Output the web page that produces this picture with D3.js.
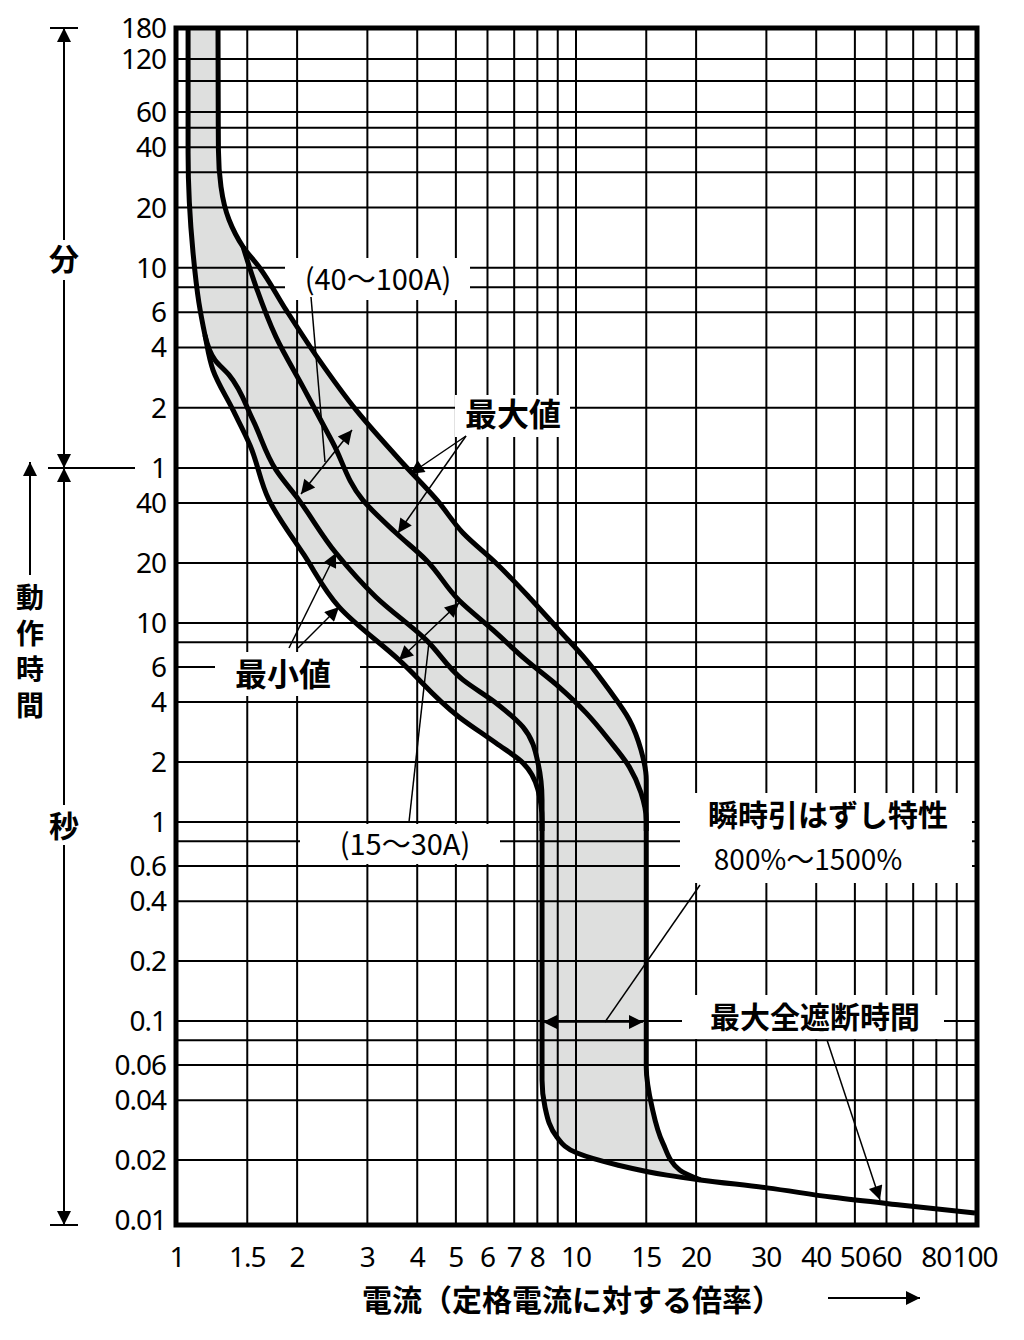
<!DOCTYPE html>
<html>
<head>
<meta charset="utf-8">
<script src="https://cdn.jsdelivr.net/npm/d3@7"></script>
<style>
  body { margin: 0; background: #fff; }
  text { font-family: "Noto Sans", "Noto Sans CJK JP", sans-serif; fill: #000; }
  .jp { font-family: "Noto Sans CJK JP", sans-serif; }
</style>
</head>
<body>
<script>
// current multiples (x) and operate time in seconds (t)
var xGrid = [1.5, 2, 3, 4, 5, 6, 7, 8, 9, 10, 15, 20, 30, 40, 50, 60, 70, 80, 90];
var xLabels = [1, 1.5, 2, 3, 4, 5, 6, 7, 8, 10, 15, 20, 30, 40, 50, 60, 80, 100];
var minGrid = [1, 2, 4, 6, 8, 10, 20, 30, 40, 50, 60, 90, 120];
var minLabels = [180, 120, 60, 40, 20, 10, 6, 4, 2, 1];
var secGrid = [40, 20, 10, 8, 6, 4, 2, 1, 0.8, 0.6, 0.4, 0.2, 0.1, 0.08, 0.06, 0.04, 0.02];
var secLabels = [40, 20, 10, 6, 4, 2, 1, 0.6, 0.4, 0.2, 0.1, 0.06, 0.04, 0.02, 0.01];

var curve1 = [[1.066,10800],[1.066,2255],[1.097,713],[1.135,401],[1.175,277],[1.231,185],[1.381,117],
  [1.524,78],[1.70,41.5],[2.08,22],[2.55,12],[3.60,6.52],[5.09,3.37],[6.30,2.49],[7.36,1.98],
  [8.03,1.45],[8.22,1.02],[8.22,0.0505],[8.36,0.037],[8.96,0.0261],[10.06,0.0217],[12.7,0.0189],
  [16.9,0.0168],[20.5,0.0159],[30.1,0.0145],[44.1,0.013],[64.9,0.0119],[100,0.01084]];
var curve2 = [[1.175,277],[1.245,208],[1.35,175],[1.55,104],[1.77,58.7],[2.02,41.5],[2.50,22.5],
  [3.15,13.5],[4.21,8.22],[5.21,5.17],[6.30,3.96],[7.36,3.0],[8.03,1.98],[8.22,1.29],[8.22,0.9]];
var curve3 = [[1.464,764],[1.578,482],[1.77,271],[2.07,152],[2.46,80],[2.92,41.5],[3.54,28.3],
  [4.21,20.7],[5.09,13.0],[6.19,9.22],[7.49,6.52],[9.06,4.77],[10.6,3.53],[12.1,2.58],[13.6,1.89],
  [14.55,1.40],[15.0,1.02],[15.0,0.9]];
var curve4 = [[1.267,10800],[1.27,2334],[1.289,1524],[1.35,1043],[1.464,764],[1.606,606],[1.876,370],
  [2.27,208],[2.81,117],[3.68,63.4],[4.48,41.5],[5.21,28.3],[6.30,20.0],[7.62,13.5],[9.06,9.22],
  [10.6,6.52],[12.1,4.61],[13.6,3.26],[14.55,2.30],[15.0,1.63],[15.0,0.955],[15.0,0.0587],
  [15.5,0.037],[16.5,0.0244],[18.2,0.0178],[20.5,0.0159]];

var W = 1024, H = 1340;
var L = 176, R = 977, T = 28, B = 1225;
var svg = d3.select('body').append('svg').attr('width', W).attr('height', H);

var x = d3.scaleLog().domain([1, 100]).range([177, 975]);
var ySec = d3.scaleLog().domain([0.01, 60]).range([1220, 468]);
var yMin = d3.scaleLog().domain([1, 60]).range([468, 112]);
var yMinHi = d3.scaleLog().domain([60, 180]).range([112, 28]);
function y(t) {
    if (t <= 60) return ySec(t);
    var m = t / 60;
    return m <= 60 ? yMin(m) : yMinHi(m);
}

var line = d3.line().curve(d3.curveMonotoneY)
    .x(function (d) { return x(d[0]); }).y(function (d) { return y(d[1]); });

// shaded band
var bandLeft = curve1.filter(function (d) { return d[0] <= 20.5; });
svg.append('path')
    .attr('d', line(bandLeft) + line(curve4.slice()).replace('M', 'L').replace(/^/, '') )
    .attr('fill', 'none');
var bandPath = line(bandLeft) + 'L' + line(curve4.slice().reverse()).slice(1) + 'Z';
svg.append('path')
    .attr('d', d3.line().curve(d3.curveMonotoneY)
        .x(function (d) { return x(d[0]); }).y(function (d) { return y(d[1]); })(bandLeft)
        + 'L' + line(curve4).slice(1).split(/(?=[MLC])/).join('') )
    .attr('fill', 'none');
// simple polygon fill built from the same points, smoothed by drawing both edges
var fillArea = svg.append('g');
fillArea.append('path')
    .attr('d', line(bandLeft) + 'L' + x(curve4[curve4.length - 1][0]) + ',' + y(curve4[curve4.length - 1][1]) +
        ' ' + line(curve4.slice().reverse()).replace(/^M/, 'L') + 'Z')
    .attr('fill', '#dedfde');

// grid
var g = svg.append('g').attr('stroke', '#000').attr('stroke-width', 2);
g.selectAll('.vx').data(xGrid).enter().append('line')
    .attr('x1', function (d) { return x(d); }).attr('x2', function (d) { return x(d); })
    .attr('y1', T).attr('y2', B);
g.selectAll('.hm').data(minGrid).enter().append('line')
    .attr('x1', L).attr('x2', R)
    .attr('y1', function (d) { return y(d * 60); }).attr('y2', function (d) { return y(d * 60); });
g.selectAll('.hs').data(secGrid).enter().append('line')
    .attr('x1', L).attr('x2', R)
    .attr('y1', function (d) { return y(d); }).attr('y2', function (d) { return y(d); });

// white label boxes (cover grid)
var boxes = [[285, 258, 185, 42], [455, 395, 115, 42], [215, 652, 145, 44], [300, 824, 200, 40],
    [680, 793, 292, 90], [682, 995, 262, 44]];
svg.selectAll('.box').data(boxes).enter().append('rect')
    .attr('x', function (d) { return d[0]; }).attr('y', function (d) { return d[1]; })
    .attr('width', function (d) { return d[2]; }).attr('height', function (d) { return d[3]; })
    .attr('fill', '#fff');

// curves
[curve1, curve2, curve3, curve4].forEach(function (c) {
    svg.append('path').attr('d', line(c)).attr('fill', 'none')
        .attr('stroke', '#000').attr('stroke-width', 5).attr('stroke-linejoin', 'round');
});

// frame
svg.append('rect').attr('x', L).attr('y', T).attr('width', R - L).attr('height', B - T)
    .attr('fill', 'none').attr('stroke', '#000').attr('stroke-width', 5);

// tick labels
svg.selectAll('.xl').data(xLabels).enter().append('text')
    .attr('x', function (d) { return x(d); }).attr('y', 1267)
    .attr('text-anchor', 'middle').attr('font-size', 28).attr('letter-spacing', -1)
    .text(function (d) { return d; });
svg.selectAll('.ml').data(minLabels).enter().append('text')
    .attr('x', 166).attr('y', function (d) { return y(d * 60) + 10; })
    .attr('text-anchor', 'end').attr('font-size', 28).attr('letter-spacing', -1)
    .text(function (d) { return d; });
svg.selectAll('.sl').data(secLabels).enter().append('text')
    .attr('x', 166).attr('y', function (d) { return y(d) + 10; })
    .attr('text-anchor', 'end').attr('font-size', 28).attr('letter-spacing', -1)
    .text(function (d) { return d; });

// arrow markers
var defs = svg.append('defs');
defs.append('marker').attr('id', 'big').attr('viewBox', '0 0 10 10').attr('refX', 10).attr('refY', 5)
    .attr('markerWidth', 24).attr('markerHeight', 14).attr('markerUnits', 'userSpaceOnUse')
    .attr('orient', 'auto-start-reverse')
    .append('path').attr('d', 'M0,0L10,5L0,10Z').attr('fill', '#000');

function seg(x1, y1, x2, y2, w, m1, m2) {
    var l = svg.append('line').attr('x1', x1).attr('y1', y1).attr('x2', x2).attr('y2', y2)
        .attr('stroke', '#000').attr('stroke-width', w || 1.5);
    if (m1) l.attr('marker-start', 'url(#' + m1 + ')');
    if (m2) l.attr('marker-end', 'url(#' + m2 + ')');
    return l;
}

// left time axis
var yOne = y(60);
seg(64, T, 64, 240, 2, 'big', null);
seg(64, 280, 64, yOne, 2, null, 'big');
seg(64, yOne, 64, 805, 2, 'big', null);
seg(64, 845, 64, B, 2, null, 'big');
seg(50, T, 78, T, 2); seg(50, B, 78, B, 2);
seg(48, yOne, 135, yOne, 2);
seg(30, 575, 30, yOne - 6, 2, null, 'big');
svg.append('text').attr('class', 'jp').attr('x', 64).attr('y', 270).attr('text-anchor', 'middle')
    .attr('font-size', 30).attr('font-weight', 'bold').text('分');
svg.append('text').attr('class', 'jp').attr('x', 64).attr('y', 837).attr('text-anchor', 'middle')
    .attr('font-size', 30).attr('font-weight', 'bold').text('秒');
['動', '作', '時', '間'].forEach(function (c, i) {
    svg.append('text').attr('class', 'jp').attr('x', 30).attr('y', 608 + i * 36).attr('text-anchor', 'middle')
        .attr('font-size', 28).attr('font-weight', 'bold').text(c);
});

// x axis title
svg.append('text').attr('class', 'jp').attr('x', 572).attr('y', 1311).attr('text-anchor', 'middle')
    .attr('font-size', 30).attr('font-weight', 'bold').text('電流（定格電流に対する倍率）');
seg(828, 1298, 920, 1298, 2, null, 'big');

// annotations
function label(t, x0, y0, size, bold) {
    svg.append('text').attr('class', 'jp').attr('x', x0).attr('y', y0).attr('text-anchor', 'middle')
        .attr('font-size', size).attr('font-weight', bold ? 'bold' : 'normal').text(t);
}
label('(40〜100A)', 378, 290, 29, false);
seg(311, 297, 325, 462);
seg(301, 494, 352, 430, 1.5, 'big', 'big');

label('最大値', 513, 426, 32, true);
seg(466, 436, 410, 474, 1.5, null, 'big');
seg(466, 436, 398, 533, 1.5, null, 'big');

label('最小値', 283, 686, 32, true);
seg(289, 648, 336, 553, 1.5, null, 'big');
seg(298, 648, 339, 607, 1.5, null, 'big');

label('(15〜30A)', 405, 855, 29, false);
seg(409, 822, 429, 642);
seg(399, 660, 459, 603, 1.5, 'big', 'big');

label('瞬時引はずし特性', 828, 826, 30, true);
label('800%〜1500%', 808, 870, 28, false);
seg(700, 885, 605, 1022);
seg(605, 1022, 543, 1022, 1.5, null, 'big');
seg(605, 1022, 643, 1022, 1.5, null, 'big');

label('最大全遮断時間', 815, 1028, 30, true);
seg(827, 1040, 880, 1200, 1.5, null, 'big');
</script>
</body>
</html>
